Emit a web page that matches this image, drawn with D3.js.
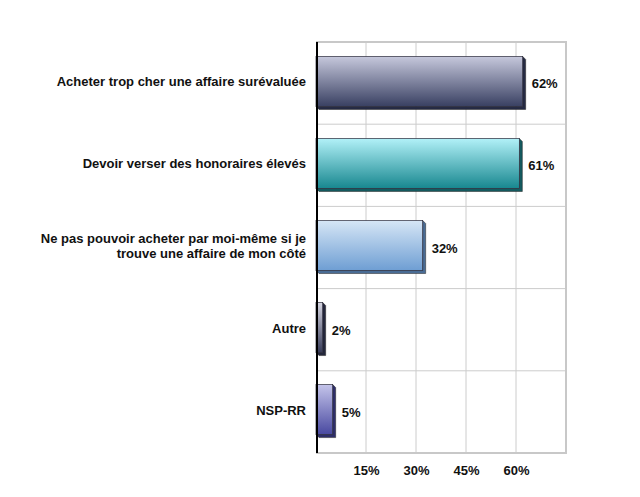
<!DOCTYPE html>
<html>
<head>
<meta charset="utf-8">
<script src="https://cdn.jsdelivr.net/npm/d3@7"></script>
<style>
  body { margin: 0; background: #fff; }
  text { font-family: "Liberation Sans", Arial, sans-serif; font-weight: bold; fill: #111; }
</style>
</head>
<body>
<div id="chart"></div>
<script>
  // data
  const categories = [
    ["Acheter trop cher une affaire surévaluée"],
    ["Devoir verser des honoraires élevés"],
    ["Ne pas pouvoir acheter par moi-même si je", "trouve une affaire de mon côté"],
    ["Autre"],
    ["NSP-RR"]
  ];
  const values = [62, 61, 32, 2, 5];
  const ticks = [15, 30, 45, 60];

  // colours per bar: gradient top, gradient bottom, 3d side
  const bar_colors = [
    ["#c6c8dc", "#394062", "#262b44"],
    ["#b2f1f8", "#17878f", "#145a5f"],
    ["#d6e6f6", "#6e9ed3", "#4a6c95"],
    ["#d6d6e2", "#363a58", "#24273c"],
    ["#c4c4ea", "#4848a0", "#2e2e6a"]
  ];

  const width = 640, height = 497;
  const plot = { left: 316, right: 566, top: 42, bottom: 453 };
  const depth = 3;
  const font_size = 13;

  const svg = d3.select("#chart")
    .append("svg")
    .attr("width", width)
    .attr("height", height);

  const x = d3.scaleLinear()
    .domain([0, 75])
    .range([plot.left, plot.right]);

  const y = d3.scaleBand()
    .domain(d3.range(values.length))
    .range([plot.top, plot.bottom])
    .paddingInner(0.39)
    .paddingOuter(0.2);

  // gradients
  const defs = svg.append("defs");
  bar_colors.forEach(function (c, i) {
    const g = defs.append("linearGradient")
      .attr("id", "grad" + i)
      .attr("x1", 0).attr("y1", 0).attr("x2", 0).attr("y2", 1);
    g.append("stop").attr("offset", "0%").attr("stop-color", c[0]);
    g.append("stop").attr("offset", "100%").attr("stop-color", c[1]);
  });

  // grid
  const grid = svg.append("g");
  grid.selectAll(".vline")
    .data(ticks)
    .join("line")
    .attr("x1", d => x(d)).attr("x2", d => x(d))
    .attr("y1", plot.top).attr("y2", plot.bottom)
    .attr("stroke", "#cccccc")
    .attr("stroke-width", 1);

  grid.selectAll(".hline")
    .data(d3.range(1, values.length))
    .join("line")
    .attr("x1", plot.left).attr("x2", plot.right)
    .attr("y1", d => plot.top + d * (plot.bottom - plot.top) / values.length)
    .attr("y2", d => plot.top + d * (plot.bottom - plot.top) / values.length)
    .attr("stroke", "#cccccc")
    .attr("stroke-width", 1);

  // frame (top, right, bottom)
  svg.append("path")
    .attr("d", `M${plot.left},${plot.top}H${plot.right}V${plot.bottom}H${plot.left}`)
    .attr("fill", "none")
    .attr("stroke", "#c8c8c8")
    .attr("stroke-width", 2);

  // bars
  const bars = svg.append("g")
    .selectAll("g")
    .data(values)
    .join("g");

  // 3d side
  bars.append("path")
    .attr("d", function (d, i) {
      const x0 = x(0), x1 = x(d), y0 = y(i) - 2, y1 = y(i) - 2 + y.bandwidth();
      return `M${x1},${y0}L${x1 + depth},${y0 + depth}V${y1 + depth}H${x0 + depth}L${x0},${y1}H${x1}Z`;
    })
    .attr("fill", (d, i) => bar_colors[i][2])
    .attr("stroke", "#222")
    .attr("stroke-width", 0.5);

  bars.append("rect")
    .attr("x", x(0))
    .attr("y", (d, i) => y(i) - 2)
    .attr("width", d => x(d) - x(0))
    .attr("height", y.bandwidth())
    .attr("fill", (d, i) => "url(#grad" + i + ")")
    .attr("stroke", "#2a2a3a")
    .attr("stroke-width", 0.7);

  // value labels
  bars.append("text")
    .attr("x", d => x(d) + depth + 6)
    .attr("y", (d, i) => y(i) + y.bandwidth() / 2 + 5)
    .attr("font-size", font_size)
    .text(d => d + "%");

  // axis line
  svg.append("line")
    .attr("x1", plot.left + 1).attr("x2", plot.left + 1)
    .attr("y1", plot.top).attr("y2", plot.bottom)
    .attr("stroke", "#000")
    .attr("stroke-width", 2);

  // category labels
  const labels = svg.append("g")
    .selectAll("text")
    .data(categories)
    .join("text")
    .attr("text-anchor", "end")
    .attr("font-size", font_size)
    .attr("y", (d, i) => y(i) + y.bandwidth() / 2 + 3 - (d.length - 1) * 7.5);

  labels.selectAll("tspan")
    .data(d => d)
    .join("tspan")
    .attr("x", 306)
    .attr("dy", (d, j) => j === 0 ? 0 : 15)
    .text(d => d);

  // bottom tick labels
  const xaxis = svg.append("g")
    .attr("transform", `translate(0, ${plot.bottom + 10})`)
    .call(d3.axisBottom(x).tickValues(ticks).tickSize(0).tickFormat(d => d + "%"));
  xaxis.select(".domain").remove();
  xaxis.selectAll("text")
    .attr("font-size", font_size)
    .attr("font-family", "Liberation Sans, Arial, sans-serif")
    .attr("font-weight", "bold")
    .attr("fill", "#111");
</script>
</body>
</html>
